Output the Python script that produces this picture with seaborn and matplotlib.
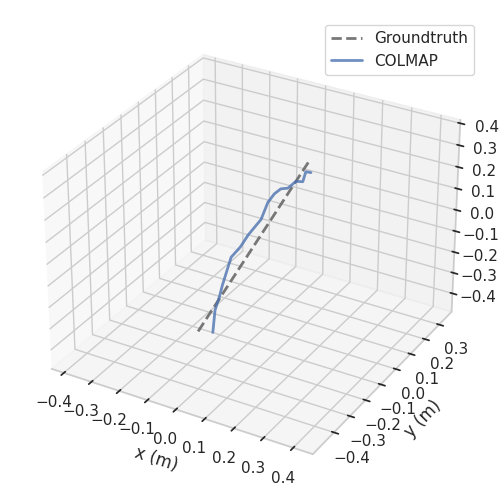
import numpy as np
import matplotlib
matplotlib.use("Agg")
import matplotlib.pyplot as plt
import seaborn as sns

sns.set_theme(style="whitegrid", palette="deep")

gt_x = [-0.127, 0.127]
gt_y = [-0.187, 0.047]
gt_z = [-0.423, 0.310]

col_x = [-0.074, -0.085, -0.081, -0.080, -0.072, -0.048, -0.030, 0.003, 0.013, 0.029, 0.048, 0.071, 0.094, 0.117, 0.119, 0.137]
col_y = [-0.187, -0.154, -0.134, -0.117, -0.076, -0.061, -0.044, -0.022, 0.002, 0.014, 0.020, 0.022, 0.031, 0.032, 0.047, 0.046]
col_z = [-0.406, -0.327, -0.276, -0.232, -0.123, -0.076, -0.024, 0.047, 0.114, 0.152, 0.178, 0.188, 0.222, 0.228, 0.265, 0.268]

ticks = [-0.4, -0.3, -0.2, -0.1, 0.0, 0.1, 0.2, 0.3, 0.4]
yticks = [-0.4, -0.3, -0.2, -0.1, 0.0, 0.1, 0.2, 0.3]

fig = plt.figure(figsize=(5, 5), dpi=100)
ax = fig.add_subplot(111, projection="3d")
ax.plot(gt_x, gt_y, gt_z, color="dimgray", ls="--", lw=2, alpha=0.9, label="Groundtruth")
ax.plot(col_x, col_y, col_z, color=sns.color_palette("deep")[0], lw=2, alpha=0.8, label="COLMAP")
ax.set_xlim(-0.445, 0.465)
ax.set_ylim(-0.53, 0.39)
ax.set_zlim(-0.49, 0.416)
ax.set_xticks(ticks)
ax.set_yticks(yticks)
ax.set_zticks(ticks)
ax.set_xlabel("x (m)")
ax.set_ylabel("y (m)")
ax.set_position([0.033, 0.033, 0.93, 0.93])
ax.legend(loc="upper right", bbox_to_anchor=(0.948, 0.95), bbox_transform=fig.transFigure, borderaxespad=0)
fig.savefig("out.png", dpi=100)
